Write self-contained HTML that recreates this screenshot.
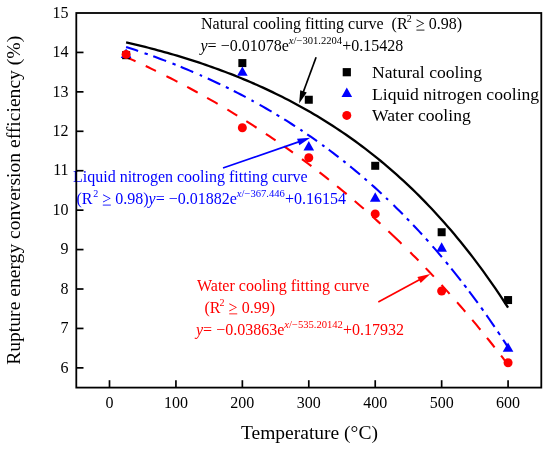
<!DOCTYPE html>
<html><head><meta charset="utf-8"><style>
html,body{margin:0;padding:0;background:#fff;}
svg{display:block;will-change:transform;}
text{font-family:"Liberation Serif",serif;fill:#000;}
.tl{font-size:16px;}
.ax{font-size:19.5px;}
.ay{font-size:19.6px;}
.lg{font-size:17.6px;}
.an{font-size:16px;}
.sup{font-size:10.6px;}
.sup2{font-size:10px;}
text.an[fill="#0000ff"], text.an[fill="#0000ff"] tspan{fill:#0000ff;}
text.an[fill="#ff0000"], text.an[fill="#ff0000"] tspan{fill:#ff0000;}
</style></head><body>
<svg width="550" height="449" viewBox="0 0 550 449">
<rect width="550" height="449" fill="#fff"/>
<path d="M126.11,42.31 L129.29,43.05 L132.47,43.80 L135.66,44.57 L138.84,45.34 L142.02,46.13 L145.21,46.93 L148.39,47.75 L151.57,48.58 L154.76,49.42 L157.94,50.27 L161.12,51.14 L164.30,52.02 L167.49,52.92 L170.67,53.83 L173.85,54.75 L177.04,55.69 L180.22,56.65 L183.40,57.62 L186.59,58.61 L189.77,59.61 L192.95,60.63 L196.14,61.66 L199.32,62.71 L202.50,63.78 L205.69,64.86 L208.87,65.97 L212.05,67.09 L215.23,68.22 L218.42,69.38 L221.60,70.55 L224.78,71.75 L227.97,72.96 L231.15,74.19 L234.33,75.44 L237.52,76.72 L240.70,78.01 L243.88,79.32 L247.07,80.65 L250.25,82.01 L253.43,83.39 L256.61,84.79 L259.80,86.21 L262.98,87.65 L266.16,89.12 L269.35,90.61 L272.53,92.13 L275.71,93.67 L278.90,95.23 L282.08,96.82 L285.26,98.43 L288.45,100.07 L291.63,101.74 L294.81,103.43 L298.00,105.16 L301.18,106.90 L304.36,108.68 L307.54,110.48 L310.73,112.32 L313.91,114.18 L317.09,116.07 L320.28,118.00 L323.46,119.95 L326.64,121.94 L329.83,123.96 L333.01,126.00 L336.19,128.09 L339.38,130.20 L342.56,132.35 L345.74,134.54 L348.92,136.76 L352.11,139.01 L355.29,141.30 L358.47,143.63 L361.66,146.00 L364.84,148.40 L368.02,150.84 L371.21,153.32 L374.39,155.84 L377.57,158.40 L380.76,161.01 L383.94,163.65 L387.12,166.34 L390.31,169.07 L393.49,171.84 L396.67,174.66 L399.85,177.52 L403.04,180.43 L406.22,183.38 L409.40,186.39 L412.59,189.44 L415.77,192.54 L418.95,195.69 L422.14,198.89 L425.32,202.14 L428.50,205.44 L431.69,208.80 L434.87,212.21 L438.05,215.67 L441.23,219.19 L444.42,222.77 L447.60,226.40 L450.78,230.09 L453.97,233.85 L457.15,237.66 L460.33,241.53 L463.52,245.47 L466.70,249.46 L469.88,253.53 L473.07,257.65 L476.25,261.85 L479.43,266.11 L482.62,270.44 L485.80,274.84 L488.98,279.30 L492.16,283.85 L495.35,288.46 L498.53,293.15 L501.71,297.91 L504.90,302.75 L508.08,307.67" fill="none" stroke="#000" stroke-width="2.3"/>
<path d="M126.11,46.93 L129.29,47.97 L132.47,49.03 L135.66,50.10 L138.84,51.18 L142.02,52.28 L145.21,53.39 L148.39,54.52 L151.57,55.66 L154.76,56.82 L157.94,57.99 L161.12,59.18 L164.30,60.38 L167.49,61.60 L170.67,62.84 L173.85,64.09 L177.04,65.36 L180.22,66.64 L183.40,67.94 L186.59,69.26 L189.77,70.60 L192.95,71.95 L196.14,73.32 L199.32,74.71 L202.50,76.12 L205.69,77.55 L208.87,78.99 L212.05,80.45 L215.23,81.94 L218.42,83.44 L221.60,84.96 L224.78,86.50 L227.97,88.06 L231.15,89.65 L234.33,91.25 L237.52,92.87 L240.70,94.52 L243.88,96.19 L247.07,97.88 L250.25,99.59 L253.43,101.32 L256.61,103.08 L259.80,104.86 L262.98,106.66 L266.16,108.49 L269.35,110.34 L272.53,112.21 L275.71,114.11 L278.90,116.04 L282.08,117.99 L285.26,119.96 L288.45,121.96 L291.63,123.99 L294.81,126.04 L298.00,128.12 L301.18,130.23 L304.36,132.37 L307.54,134.53 L310.73,136.73 L313.91,138.95 L317.09,141.20 L320.28,143.48 L323.46,145.79 L326.64,148.13 L329.83,150.50 L333.01,152.90 L336.19,155.33 L339.38,157.80 L342.56,160.30 L345.74,162.83 L348.92,165.39 L352.11,167.99 L355.29,170.62 L358.47,173.29 L361.66,175.99 L364.84,178.72 L368.02,181.50 L371.21,184.31 L374.39,187.15 L377.57,190.04 L380.76,192.96 L383.94,195.92 L387.12,198.91 L390.31,201.95 L393.49,205.03 L396.67,208.15 L399.85,211.31 L403.04,214.51 L406.22,217.75 L409.40,221.03 L412.59,224.36 L415.77,227.73 L418.95,231.15 L422.14,234.61 L425.32,238.11 L428.50,241.67 L431.69,245.27 L434.87,248.91 L438.05,252.60 L441.23,256.35 L444.42,260.14 L447.60,263.98 L450.78,267.87 L453.97,271.81 L457.15,275.81 L460.33,279.86 L463.52,283.96 L466.70,288.11 L469.88,292.32 L473.07,296.58 L476.25,300.90 L479.43,305.28 L482.62,309.71 L485.80,314.20 L488.98,318.75 L492.16,323.36 L495.35,328.03 L498.53,332.77 L501.71,337.56 L504.90,342.42 L508.08,347.34" fill="none" stroke="#0000ff" stroke-width="2.1" stroke-dasharray="12.63 6.84 3.38 5.83 13.77 6.81 3.36 5.49 13.60 7.08 2.53 6.28 13.84 6.16 3.14 5.72 13.36 6.63 2.59 6.71 13.79 5.73 3.27 5.76 12.93 6.29 2.64 5.63 11.96 6.35 2.79 5.37 12.31 6.03 2.87 5.96 12.75 5.96 3.05 6.45 13.48 6.06 2.76 7.56 13.09 5.80 3.25 5.80 13.06 5.84 3.45 6.60 14.16 6.29 3.50 5.09 15.38 5.33 3.64 4.62 14.40 5.83 3.59 5.56 14.31 5.75 3.98 5.74 9.06 1000.00"/>
<path d="M126.11,56.99 L129.29,58.43 L132.47,59.88 L135.66,61.34 L138.84,62.81 L142.02,64.30 L145.21,65.80 L148.39,67.32 L151.57,68.84 L154.76,70.39 L157.94,71.94 L161.12,73.51 L164.30,75.10 L167.49,76.69 L170.67,78.31 L173.85,79.93 L177.04,81.57 L180.22,83.23 L183.40,84.90 L186.59,86.59 L189.77,88.29 L192.95,90.01 L196.14,91.74 L199.32,93.49 L202.50,95.25 L205.69,97.03 L208.87,98.83 L212.05,100.64 L215.23,102.46 L218.42,104.31 L221.60,106.17 L224.78,108.05 L227.97,109.94 L231.15,111.85 L234.33,113.78 L237.52,115.73 L240.70,117.69 L243.88,119.67 L247.07,121.67 L250.25,123.69 L253.43,125.72 L256.61,127.78 L259.80,129.85 L262.98,131.94 L266.16,134.05 L269.35,136.18 L272.53,138.32 L275.71,140.49 L278.90,142.68 L282.08,144.88 L285.26,147.11 L288.45,149.36 L291.63,151.62 L294.81,153.91 L298.00,156.21 L301.18,158.54 L304.36,160.89 L307.54,163.26 L310.73,165.65 L313.91,168.06 L317.09,170.50 L320.28,172.95 L323.46,175.43 L326.64,177.93 L329.83,180.46 L333.01,183.00 L336.19,185.57 L339.38,188.16 L342.56,190.78 L345.74,193.42 L348.92,196.08 L352.11,198.76 L355.29,201.47 L358.47,204.21 L361.66,206.97 L364.84,209.75 L368.02,212.56 L371.21,215.40 L374.39,218.26 L377.57,221.14 L380.76,224.05 L383.94,226.99 L387.12,229.95 L390.31,232.95 L393.49,235.96 L396.67,239.01 L399.85,242.08 L403.04,245.18 L406.22,248.31 L409.40,251.46 L412.59,254.65 L415.77,257.86 L418.95,261.10 L422.14,264.37 L425.32,267.67 L428.50,271.00 L431.69,274.36 L434.87,277.75 L438.05,281.17 L441.23,284.63 L444.42,288.11 L447.60,291.62 L450.78,295.17 L453.97,298.74 L457.15,302.35 L460.33,306.00 L463.52,309.67 L466.70,313.38 L469.88,317.12 L473.07,320.89 L476.25,324.70 L479.43,328.55 L482.62,332.42 L485.80,336.34 L488.98,340.28 L492.16,344.27 L495.35,348.29 L498.53,352.34 L501.71,356.43 L504.90,360.56 L508.08,364.73" fill="none" stroke="#ff0000" stroke-width="2.1" stroke-dasharray="10.36 11.26 11.27 11.80 12.36 11.00 11.90 10.82 12.10 11.25 11.59 10.70 12.15 11.15 11.67 10.51 10.66 11.21 11.75 10.20 11.93 10.50 12.40 10.55 11.99 11.60 10.71 10.94 18.13 12.35 11.60 10.45 11.77 11.35 11.99 11.27 12.47 10.80 12.83 10.36 12.13 10.53 11.54 1000.00"/>
<rect x="122.11" y="51.19" width="8.0" height="8.0" fill="#000"/>
<rect x="238.36" y="59.08" width="8.0" height="8.0" fill="#000"/>
<rect x="304.79" y="95.75" width="8.0" height="8.0" fill="#000"/>
<rect x="371.22" y="161.79" width="8.0" height="8.0" fill="#000"/>
<rect x="437.65" y="228.23" width="8.0" height="8.0" fill="#000"/>
<rect x="504.08" y="296.05" width="8.0" height="8.0" fill="#000"/>
<path d="M126.11,48.52 L131.41,57.92 L120.81,57.92Z" fill="#0000ff"/>
<path d="M242.36,66.46 L247.66,75.86 L237.06,75.86Z" fill="#0000ff"/>
<path d="M308.79,140.98 L314.09,150.38 L303.49,150.38Z" fill="#0000ff"/>
<path d="M375.22,192.24 L380.52,201.64 L369.92,201.64Z" fill="#0000ff"/>
<path d="M441.65,242.31 L446.95,251.71 L436.35,251.71Z" fill="#0000ff"/>
<path d="M508.08,342.47 L513.38,351.87 L502.78,351.87Z" fill="#0000ff"/>
<circle cx="126.11" cy="54.40" r="4.5" fill="#ff0000"/>
<circle cx="242.36" cy="127.74" r="4.5" fill="#ff0000"/>
<circle cx="308.79" cy="157.71" r="4.5" fill="#ff0000"/>
<circle cx="375.22" cy="213.90" r="4.5" fill="#ff0000"/>
<circle cx="441.65" cy="290.98" r="4.5" fill="#ff0000"/>
<circle cx="508.08" cy="362.74" r="4.5" fill="#ff0000"/>
<text x="241" y="439.3" class="ax">Temperature (°C)</text>
<text transform="translate(19.8,364.8) rotate(-90)" x="0" y="0" class="ay">Rupture energy conversion efficiency (%)</text>
<rect x="342.70" y="68.10" width="8.2" height="8.2" fill="#000"/>
<path d="M346.80,87.60 L352.10,97.10 L341.50,97.10Z" fill="#0000ff"/>
<circle cx="346.80" cy="115.40" r="4.5" fill="#ff0000"/>
<text x="372" y="78.2" class="lg">Natural cooling</text>
<text x="372" y="99.6" class="lg">Liquid nitrogen cooling</text>
<text x="372" y="121.1" class="lg">Water cooling</text>
<text x="201" y="29.2" class="an">Natural cooling fitting curve  (R<tspan dy="-7" dx="-0.8" class="sup2">2</tspan><tspan dy="7" dx="0"> <tspan class="ge">&gt;</tspan> 0.98)</tspan></text>
<text x="200.5" y="50.9" class="an" fill="#000"><tspan font-style="italic">y</tspan>= −0.01078e<tspan dy="-7" class="sup"><tspan font-style="italic">x</tspan>/−301.2204</tspan><tspan dy="7">+0.15428</tspan></text>
<line x1="316.1" y1="57.3" x2="302.84" y2="93.27" stroke="#000" stroke-width="1.7"/><path d="M299.1,103.4 L300.24,90.18 L306.81,92.60Z" fill="#000"/>
<text x="73" y="182.1" class="an" fill="#0000ff">Liquid nitrogen cooling fitting curve</text>
<text x="76.4" y="204.2" class="an" fill="#0000ff">(R<tspan dy="-7" dx="0.8" class="sup2">2</tspan><tspan dy="7" dx="0"> <tspan class="ge">&gt;</tspan> 0.98)</tspan><tspan font-style="italic">y</tspan>= −0.01882e<tspan dy="-7" class="sup"><tspan font-style="italic">x</tspan>/−367.446</tspan><tspan dy="7">+0.16154</tspan></text>
<line x1="223" y1="168" x2="300.09" y2="141.33" stroke="#0000ff" stroke-width="1.7"/><path d="M310.3,137.8 L299.35,145.29 L297.06,138.68Z" fill="#0000ff"/>
<text x="197" y="291" class="an" fill="#ff0000">Water cooling fitting curve</text>
<text x="204.4" y="313" class="an" fill="#ff0000">(R<tspan dy="-7" dx="-0.8" class="sup2">2</tspan><tspan dy="7" dx="0"> <tspan class="ge">&gt;</tspan> 0.99)</tspan></text>
<text x="196" y="335.2" class="an" fill="#ff0000"><tspan font-style="italic">y</tspan>= −0.03863e<tspan dy="-7" class="sup"><tspan font-style="italic">x</tspan>/−535.20142</tspan><tspan dy="7">+0.17932</tspan></text>
<line x1="378.3" y1="301.9" x2="420.79" y2="279.02" stroke="#ff0000" stroke-width="1.7"/><path d="M430.3,273.9 L420.69,283.05 L417.37,276.89Z" fill="#ff0000"/>
<rect x="76.3" y="13.0" width="465.00" height="374.60" fill="none" stroke="#000" stroke-width="1.8"/>
<line x1="76.3" y1="367.87" x2="83.50" y2="367.87" stroke="#000" stroke-width="1.7"/>
<text x="68.6" y="372.57" class="tl" text-anchor="end">6</text>
<line x1="76.3" y1="328.44" x2="83.50" y2="328.44" stroke="#000" stroke-width="1.7"/>
<text x="68.6" y="333.14" class="tl" text-anchor="end">7</text>
<line x1="76.3" y1="289.01" x2="83.50" y2="289.01" stroke="#000" stroke-width="1.7"/>
<text x="68.6" y="293.71" class="tl" text-anchor="end">8</text>
<line x1="76.3" y1="249.58" x2="83.50" y2="249.58" stroke="#000" stroke-width="1.7"/>
<text x="68.6" y="254.28" class="tl" text-anchor="end">9</text>
<line x1="76.3" y1="210.15" x2="83.50" y2="210.15" stroke="#000" stroke-width="1.7"/>
<text x="68.6" y="214.85" class="tl" text-anchor="end">10</text>
<line x1="76.3" y1="170.72" x2="83.50" y2="170.72" stroke="#000" stroke-width="1.7"/>
<text x="68.6" y="175.42" class="tl" text-anchor="end">11</text>
<line x1="76.3" y1="131.29" x2="83.50" y2="131.29" stroke="#000" stroke-width="1.7"/>
<text x="68.6" y="135.99" class="tl" text-anchor="end">12</text>
<line x1="76.3" y1="91.86" x2="83.50" y2="91.86" stroke="#000" stroke-width="1.7"/>
<text x="68.6" y="96.56" class="tl" text-anchor="end">13</text>
<line x1="76.3" y1="52.43" x2="83.50" y2="52.43" stroke="#000" stroke-width="1.7"/>
<text x="68.6" y="57.13" class="tl" text-anchor="end">14</text>
<text x="68.6" y="17.70" class="tl" text-anchor="end">15</text>
<line x1="109.50" y1="387.6" x2="109.50" y2="380.20" stroke="#000" stroke-width="1.7"/>
<text x="109.50" y="408.3" class="tl" text-anchor="middle">0</text>
<line x1="175.93" y1="387.6" x2="175.93" y2="380.20" stroke="#000" stroke-width="1.7"/>
<text x="175.93" y="408.3" class="tl" text-anchor="middle">100</text>
<line x1="242.36" y1="387.6" x2="242.36" y2="380.20" stroke="#000" stroke-width="1.7"/>
<text x="242.36" y="408.3" class="tl" text-anchor="middle">200</text>
<line x1="308.79" y1="387.6" x2="308.79" y2="380.20" stroke="#000" stroke-width="1.7"/>
<text x="308.79" y="408.3" class="tl" text-anchor="middle">300</text>
<line x1="375.22" y1="387.6" x2="375.22" y2="380.20" stroke="#000" stroke-width="1.7"/>
<text x="375.22" y="408.3" class="tl" text-anchor="middle">400</text>
<line x1="441.65" y1="387.6" x2="441.65" y2="380.20" stroke="#000" stroke-width="1.7"/>
<text x="441.65" y="408.3" class="tl" text-anchor="middle">500</text>
<line x1="508.08" y1="387.6" x2="508.08" y2="380.20" stroke="#000" stroke-width="1.7"/>
<text x="508.08" y="408.3" class="tl" text-anchor="middle">600</text>
<rect x="416.41" y="29.65" width="8.03" height="0.85" fill="rgb(0, 0, 0)"/>
<rect x="102.80" y="204.65" width="8.03" height="0.85" fill="rgb(0, 0, 255)"/>
<rect x="229.20" y="313.45" width="8.03" height="0.85" fill="rgb(255, 0, 0)"/>
</svg>
</body></html>
